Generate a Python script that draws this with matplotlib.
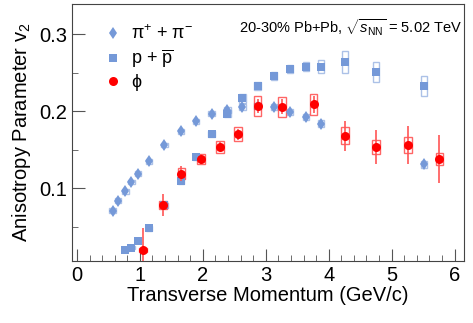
import matplotlib
matplotlib.use("Agg")
import matplotlib.pyplot as plt
from matplotlib.patches import Rectangle
from matplotlib.ticker import MultipleLocator

plt.rcParams['font.family'] = ['Liberation Sans', 'DejaVu Sans']
plt.rcParams['mathtext.fontset'] = 'custom'
plt.rcParams['mathtext.rm'] = 'Liberation Sans'
plt.rcParams['mathtext.it'] = 'Liberation Sans:italic'

# pions
pi_pt = [0.566, 0.657, 0.77, 0.865, 0.965, 1.14, 1.39, 1.65, 1.89, 2.14, 2.39, 2.63,
         2.87, 3.13, 3.39, 3.64, 3.88, 5.51]
pi_v2 = [0.071, 0.084, 0.096, 0.108, 0.119, 0.135, 0.156, 0.174, 0.187, 0.197, 0.202, 0.206,
         0.207, 0.205, 0.199, 0.193, 0.184, 0.131]
pi_sys = [0.003, 0.003, 0.003, 0.003, 0.003, 0.003, 0.003, 0.003, 0.003, 0.003, 0.004, 0.004,
          0.004, 0.004, 0.004, 0.004, 0.004, 0.005]

# protons
p_pt = [0.77, 0.865, 0.965, 1.14, 1.39, 1.65, 1.89, 2.14, 2.39, 2.63, 2.87, 3.13, 3.39,
        3.64, 3.88, 4.26, 4.75, 5.51]
p_v2 = [0.020, 0.023, 0.032, 0.048, 0.078, 0.110, 0.141, 0.170, 0.197, 0.217, 0.233, 0.246,
        0.255, 0.258, 0.258, 0.264, 0.251, 0.233]
p_sys = [0.002, 0.002, 0.002, 0.003, 0.003, 0.004, 0.004, 0.004, 0.005, 0.006, 0.005, 0.005,
         0.005, 0.006, 0.008, 0.0145, 0.0135, 0.013]

# phi
phi_pt = [1.05, 1.37, 1.66, 1.97, 2.27, 2.56, 2.87, 3.26, 3.76, 4.26, 4.75, 5.26, 5.76]
phi_v2 = [0.020, 0.078, 0.119, 0.138, 0.154, 0.170, 0.207, 0.206, 0.209, 0.168, 0.154, 0.156, 0.138]
phi_stat = [0.028, 0.014, 0.010, 0.006, 0.006, 0.007, 0.009, 0.010, 0.011, 0.019, 0.022, 0.025, 0.031]
phi_sys = [0.003, 0.005, 0.007, 0.007, 0.008, 0.009, 0.013, 0.013, 0.014, 0.011, 0.009, 0.010, 0.008]

blue = '#7599d8'
red = '#ff0000'

fig = plt.figure(figsize=(4.73, 3.23), dpi=100)
ax = fig.add_axes([0.152, 0.193, 0.829, 0.794])

def boxes(xs, ys, hs, w, color):
    for x, y, h in zip(xs, ys, hs):
        ax.add_patch(Rectangle((x - w / 2, y - h), w, 2 * h, fill=False,
                               edgecolor=color, lw=1, alpha=0.6, zorder=2))

boxes(pi_pt, pi_v2, pi_sys, 0.1, blue)
boxes(p_pt, p_v2, p_sys, 0.1, blue)
boxes(phi_pt, phi_v2, phi_sys, 0.12, red)

ax.plot(pi_pt, pi_v2, 'd', color=blue, ms=6.5, mew=0, label=r'π$^{+}$ + π$^{-}$', zorder=3)
ax.plot(p_pt, p_v2, 's', color=blue, ms=5.5, mew=0, label=r'p + $\overline{\rm p}$', zorder=3)
ax.errorbar(phi_pt, phi_v2, yerr=phi_stat, fmt='none', ecolor='#ff5555',
            elinewidth=1.2, capsize=0, zorder=4)
ax.plot(phi_pt, phi_v2, 'o', color=red, ms=6.5, mew=0, label='ϕ', zorder=5)

ax.set_xlim(-0.08, 6.15)
ax.set_ylim(0.006, 0.339)
ax.xaxis.set_major_locator(MultipleLocator(1))
ax.xaxis.set_minor_locator(MultipleLocator(0.2))
ax.yaxis.set_major_locator(MultipleLocator(0.1))
ax.yaxis.set_minor_locator(MultipleLocator(0.05))
ax.set_yticks([0.1, 0.2, 0.3])
ax.set_yticklabels(['0.1', '0.2', '0.3'])
ax.tick_params(which='both', direction='in', color='#555555', labelsize=14.5)
ax.tick_params(which='major', length=9)
ax.tick_params(which='minor', length=4.5)
for s in ax.spines.values():
    s.set_color('#444444')

ax.set_xlabel('Transverse Momentum (GeV/c)', fontsize=14.5, labelpad=1)
ax.set_ylabel(r'Anisotropy Parameter v$_{2}$', fontsize=14.5, labelpad=4)

ax.legend(loc='upper left', bbox_to_anchor=(0.035, 0.985), frameon=False, fontsize=13,
          handletextpad=0.4, handlelength=1.2, labelspacing=0.25)
ax.text(0.995, 0.91, r'20-30% Pb+Pb, $\sqrt{s_{\rm NN}}$ = 5.02 TeV', transform=ax.transAxes,
        ha='right', va='center', fontsize=10.5)

fig.savefig('out.png', dpi=100)
